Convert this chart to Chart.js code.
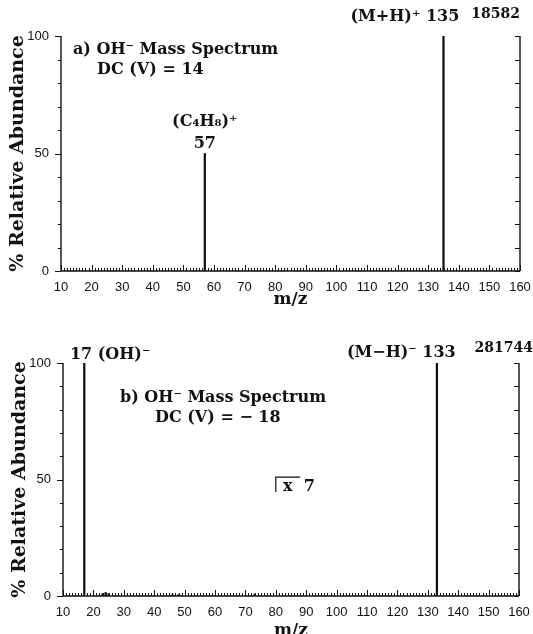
<!DOCTYPE html>
<html>
<head>
<meta charset="utf-8">
<script src="https://cdn.jsdelivr.net/npm/chart.js@4.4.0/dist/chart.umd.min.js"></script>
<style>
  html, body { margin: 0; padding: 0; background: #fff; overflow: hidden; }
  .panel { position: absolute; left: 0; }
</style>
</head>
<body>
<canvas id="chartA" class="panel" style="top:0" width="533" height="317"></canvas>
<canvas id="chartB" class="panel" style="top:317px" width="533" height="330"></canvas>
<script>
// spectrum a) DC (V) = 14
const massesA = [57, 135];
const abundA = [50, 100];
// spectrum b) DC (V) = -18
const massesB = [17, 23, 24, 25, 46, 48, 73, 133];
const abundB = [100, 1, 1.5, 1, 0.6, 0.6, 0.8, 100];
// axis tick labels
const mzTicks = [10, 20, 30, 40, 50, 60, 70, 80, 90, 100, 110, 120, 130, 140, 150, 160];
const abundTicks = [0, 50, 100];

const SERIF = '"DejaVu Serif", "Liberation Serif", serif';
const SANS = '"Liberation Sans", Arial, sans-serif';
const INK = '#111';

// axes frame with the small tick marks of the original plot
const frameAxes = {
    id: 'frameAxes',
    afterDatasetsDraw(chart) {
        const { ctx, chartArea: a, scales: { x, y } } = chart;
        ctx.save();
        ctx.strokeStyle = INK;
        ctx.lineWidth = 1.4;
        ctx.beginPath();
        ctx.moveTo(a.left, a.top);
        ctx.lineTo(a.left, a.bottom);
        ctx.lineTo(a.right, a.bottom);
        ctx.moveTo(a.right, a.top);
        ctx.lineTo(a.right, a.bottom);
        ctx.stroke();

        ctx.lineWidth = 1;
        ctx.beginPath();
        for (let v = 0; v <= 100; v += 10) {
            const py = Math.round(y.getPixelForValue(v)) + 0.5;
            const major = v % 50 === 0;
            ctx.moveTo(a.left - (major ? 6 : 3), py);
            ctx.lineTo(a.left, py);
            ctx.moveTo(a.right - 5, py);
            ctx.lineTo(a.right, py);
        }
        for (let m = mzTicks[0]; m <= mzTicks[mzTicks.length - 1]; m++) {
            const px = Math.round(x.getPixelForValue(m)) + 0.5;
            const len = m % 10 === 0 ? 6 : 3;
            ctx.moveTo(px, a.bottom);
            ctx.lineTo(px, a.bottom - len);
        }
        ctx.stroke();
        ctx.restore();
    }
};

// text labels placed in data space
const peakLabels = {
    id: 'peakLabels',
    afterDraw(chart, args, opts) {
        const { ctx, scales: { x, y } } = chart;
        ctx.save();
        ctx.fillStyle = INK;
        ctx.textBaseline = 'middle';
        (opts.items || []).forEach(item => {
            ctx.font = item.font || `bold 16px ${SERIF}`;
            ctx.textAlign = item.align || 'center';
            ctx.fillText(item.text, x.getPixelForValue(item.x), y.getPixelForValue(item.y));
        });
        (opts.brackets || []).forEach(b => {
            ctx.strokeStyle = INK;
            ctx.lineWidth = 1.2;
            ctx.beginPath();
            ctx.moveTo(x.getPixelForValue(b.x0), y.getPixelForValue(b.y0));
            ctx.lineTo(x.getPixelForValue(b.x0), y.getPixelForValue(b.y1));
            ctx.lineTo(x.getPixelForValue(b.x1), y.getPixelForValue(b.y1));
            ctx.stroke();
        });
        ctx.restore();
    }
};

function makeSpectrum(canvasId, masses, abund, layout, labels) {
    const ctx = document.getElementById(canvasId).getContext('2d');
    return new Chart(ctx, {
        type: 'bar',
        data: {
            datasets: [{
                data: masses.map((m, i) => ({ x: m, y: abund[i] })),
                backgroundColor: INK,
                borderWidth: 0,
                barThickness: 1.6
            }]
        },
        options: {
            responsive: false,
            animation: false,
            events: [],
            layout: { padding: { top: layout.top, right: layout.right, left: 0, bottom: 0 } },
            plugins: {
                legend: { display: false },
                tooltip: { enabled: false },
                peakLabels: labels
            },
            scales: {
                x: {
                    type: 'linear',
                    min: 10,
                    max: 160,
                    offset: false,
                    grid: { display: false, offset: false },
                    border: { display: false },
                    afterBuildTicks: s => { s.ticks = mzTicks.map(v => ({ value: v })); },
                    afterFit: s => { s.height = layout.xHeight; },
                    ticks: { color: INK, font: { family: SANS, size: 13 }, padding: 1, maxRotation: 0, autoSkip: false },
                    title: {
                        display: true,
                        text: 'm/z',
                        color: INK,
                        font: { family: SERIF, size: 17, weight: 'bold' },
                        padding: { top: 0, bottom: layout.xTitlePad }
                    }
                },
                y: {
                    min: 0,
                    max: 100,
                    grid: { display: false },
                    border: { display: false },
                    afterBuildTicks: s => { s.ticks = abundTicks.map(v => ({ value: v })); },
                    afterFit: s => { s.width = layout.yWidth; },
                    ticks: { color: INK, font: { family: SANS, size: 13 }, padding: 4 },
                    title: {
                        display: true,
                        text: '% Relative Abundance',
                        color: INK,
                        font: { family: SERIF, size: 19, weight: 'bold' },
                        padding: { top: layout.yTitlePad, bottom: 0 }
                    }
                }
            }
        },
        plugins: [frameAxes, peakLabels]
    });
}

makeSpectrum('chartA', massesA, abundA,
    { top: 36, right: 13, xHeight: 46, yWidth: 61, xTitlePad: 7.5, yTitlePad: 7 },
    {
        items: [
            { text: 'a) OH\u207B Mass Spectrum', x: 13.9, y: 94, align: 'left' },
            { text: 'DC (V) = 14', x: 21.8, y: 85.5, align: 'left' },
            { text: '(C\u2084H\u2088)\u207A', x: 57, y: 63.4 },
            { text: '57', x: 57, y: 54 },
            { text: '(M+H)\u207A 135', x: 122.4, y: 108 },
            { text: '18582', x: 160, y: 109.4, align: 'right', font: `bold 14px ${SERIF}` }
        ]
    });

makeSpectrum('chartB', massesB, abundB,
    { top: 46, right: 14, xHeight: 51, yWidth: 63, xTitlePad: 6.5, yTitlePad: 9 },
    {
        items: [
            { text: '17 (OH)\u207B', x: 25.5, y: 103.4 },
            { text: 'b) OH\u207B Mass Spectrum', x: 28.75, y: 85, align: 'left' },
            { text: 'DC (V) = \u2212 18', x: 40.3, y: 76.4, align: 'left' },
            { text: '(M\u2212H)\u207B 133', x: 121.3, y: 104.3 },
            { text: '281744', x: 164.6, y: 106.4, align: 'right', font: `bold 14px ${SERIF}` },
            { text: 'x  7', x: 82.4, y: 46.8, align: 'left' }
        ],
        brackets: [{ x0: 80, y0: 44.6, y1: 51, x1: 88 }]
    });
</script>
</body>
</html>
